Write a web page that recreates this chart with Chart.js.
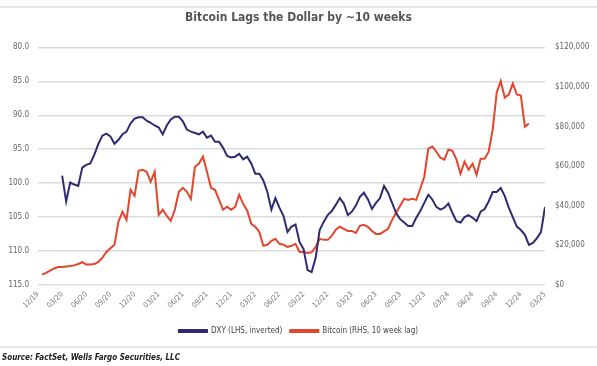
<!DOCTYPE html>
<html>
<head>
<meta charset="utf-8">
<script src="https://cdn.jsdelivr.net/npm/chart.js@4.4.1/dist/chart.umd.min.js"></script>
<style>
  body { margin: 0; background: #fff; }
  #wrap { position: relative; width: 597px; height: 366px; overflow: hidden; }
  .rule { position: absolute; left: 0; width: 597px; height: 2px; background: #e6e6e6; }
  #source { position: absolute; left: 2px; top: 353px; font: italic 600 8px 'Liberation Sans Narrow', 'DejaVu Sans Condensed', 'Roboto', sans-serif; color: #222; }
</style>
</head>
<body>
<div id="wrap">
  <div class="rule" style="top:6px"></div>
  <canvas id="chart" width="597" height="366"></canvas>
  <div class="rule" style="top:346px"></div>
  <div id="source">Source: FactSet, Wells Fargo Securities, LLC</div>
</div>
<script>
// x values are months after Dec 2019, one point every half month
const step = 0.5;
const dxyStart = 3;
const btcStart = 0.5;

// DXY index (left axis, inverted)
const dxy = [
  98.9, 102.7, 99.9, 100.2, 100.4, 97.7, 97.3, 97.1, 95.8, 94.2,
  93.0, 92.7, 93.1, 94.2, 93.6, 92.8, 92.4, 91.2, 90.5, 90.3,
  90.3, 90.8, 91.1, 91.5, 91.8, 92.8, 91.5, 90.6, 90.2, 90.2,
  90.9, 92.1, 92.4, 92.6, 92.8, 92.4, 93.3, 93.0, 93.9, 93.9,
  94.8, 96.0, 96.2, 96.1, 95.7, 96.5, 96.1, 97.1, 98.6, 98.6,
  99.6, 101.3, 103.9, 102.2, 103.6, 104.8, 107.2, 106.4, 106.1, 108.7,
  109.7, 112.8, 113.1, 111.0, 106.9, 105.7, 104.7, 104.1, 103.2, 102.2,
  103.0, 104.7, 104.2, 103.3, 102.0, 101.4, 102.4, 103.8, 102.9, 102.2,
  100.4, 101.4, 102.9, 104.4, 105.3, 105.8, 106.3, 106.3, 105.1, 104.1,
  102.9, 101.7, 102.4, 103.5, 103.9, 103.6, 103.0, 104.4, 105.6, 105.8,
  105.0, 104.7, 105.1, 105.6, 104.2, 103.8, 102.7, 101.3, 101.3, 100.7,
  101.9, 103.6, 105.0, 106.4, 106.9, 107.6, 109.1, 108.8, 108.1, 107.2,
  103.5
];

// Bitcoin price in USD, 10 week lag (right axis)
const btc = [
  5200, 6100, 7300, 8350, 9100, 9100, 9400, 9600, 9900, 10600,
  11500, 10400, 10300, 10600, 11700, 13700, 16700, 18500, 20300, 32000,
  37000, 32900, 48100, 45000, 57700, 58200, 57200, 52100, 57200, 35400,
  38000, 34900, 32400, 38000, 47100, 49100, 47100, 43500, 59700, 61300,
  64800, 57200, 49100, 48100, 43000, 38000, 39500, 38000, 39500, 45600,
  41000, 37500, 30900, 29400, 26800, 19800, 20300, 22300, 23300, 20800,
  20300, 19200, 19800, 20800, 16700, 16700, 16200, 16500, 19200, 23300,
  22800, 22800, 24800, 27900, 29400, 28400, 27300, 27300, 26300, 29900,
  30400, 29400, 27300, 25800, 25800, 27100, 28400, 32900, 36500, 40000,
  43500, 43000, 43500, 43000, 48600, 54700, 68900, 69900, 67300, 64300,
  63300, 68400, 67800, 63300, 56200, 62300, 58200, 61300, 55700, 63800,
  63800, 67300, 78500, 97200, 103000, 94700, 96200, 101800, 96200, 95700,
  80000, 81500
];

const seriesLabels = ['DXY (LHS, inverted)', 'Bitcoin (RHS, 10 week lag)'];
const title = 'Bitcoin Lags the Dollar by ~10 weeks';

const navy = '#2f2b72';
const red = '#e2462c';
const font = "'Liberation Sans Narrow', 'DejaVu Sans Condensed', 'Roboto', sans-serif";

function toPoints(values, start) {
  return values.map((v, i) => ({ x: start + i * step, y: v }));
}

// tick value (months after Dec 2019) -> MM/YY
function monthLabel(m) {
  const d = new Date(2019, 11 + m, 1);
  const mm = String(d.getMonth() + 1).padStart(2, '0');
  const yy = String(d.getFullYear()).slice(2);
  return mm + '/' + yy;
}

const ctx = document.getElementById('chart').getContext('2d');
new Chart(ctx, {
  type: 'line',
  data: {
    datasets: [{
      label: seriesLabels[0],
      data: toPoints(dxy, dxyStart),
      borderColor: navy,
      backgroundColor: navy,
      borderWidth: 2,
      pointRadius: 0,
      yAxisID: 'yL'
    }, {
      label: seriesLabels[1],
      data: toPoints(btc, btcStart),
      borderColor: red,
      backgroundColor: red,
      borderWidth: 2,
      pointRadius: 0,
      yAxisID: 'yR'
    }]
  },
  options: {
    responsive: false,
    animation: false,
    layout: { padding: { left: 0, right: 0, top: 0, bottom: 21 } },
    plugins: {
      title: {
        display: true,
        text: title,
        color: '#555',
        font: { family: font, size: 12, weight: 'bold' },
        padding: { top: 11, bottom: 22 }
      },
      legend: {
        position: 'bottom',
        labels: {
          boxWidth: 28,
          boxHeight: 2,
          color: '#444',
          font: { family: font, size: 8 },
          padding: 8
        }
      },
      tooltip: { enabled: false }
    },
    scales: {
      x: {
        type: 'linear',
        min: 0,
        max: 63,
        grid: { display: false, drawTicks: false },
        border: { display: false },
        ticks: {
          stepSize: 3,
          autoSkip: false,
          minRotation: 45,
          maxRotation: 45,
          padding: 5,
          color: '#777',
          font: { family: font, size: 7.5 },
          callback: v => monthLabel(v)
        },
        afterFit: s => { s.height = 34; }
      },
      yL: {
        position: 'left',
        reverse: true,
        min: 80,
        max: 115,
        grid: { color: '#dcdcdc', lineWidth: 1.5, drawTicks: false },
        border: { display: false },
        ticks: {
          stepSize: 5,
          padding: 9,
          color: '#666',
          font: { family: font, size: 8 },
          callback: v => v.toFixed(1)
        },
        afterFit: s => { s.width = 38; }
      },
      yR: {
        position: 'right',
        min: 0,
        max: 120000,
        grid: { display: false, drawTicks: false },
        border: { display: false },
        ticks: {
          stepSize: 20000,
          padding: 10,
          color: '#666',
          font: { family: font, size: 8 },
          callback: v => '$' + v.toLocaleString('en-US')
        },
        afterFit: s => { s.width = 52; }
      }
    }
  }
});
</script>
</body>
</html>
